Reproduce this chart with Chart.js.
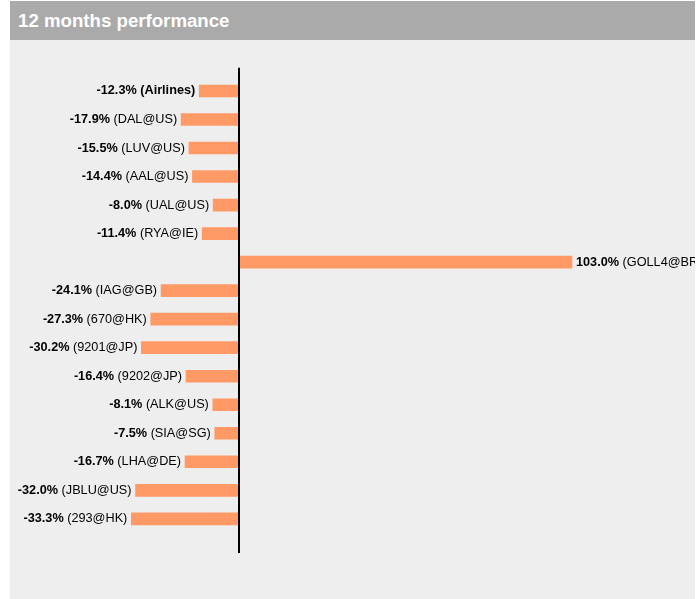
<!DOCTYPE html>
<html>
<head>
<meta charset="utf-8">
<script src="https://cdn.jsdelivr.net/npm/chart.js@4"></script>
<style>
  html, body { margin: 0; padding: 0; background: #ffffff; }
  #panel {
    position: absolute; left: 10px; top: 1px; width: 685px; height: 598px;
    background: #eeeeee; overflow: hidden;
  }
  #header {
    height: 39px; background: #aaaaaa; color: #ffffff;
    font: bold 18.67px "Liberation Sans", Arial, sans-serif;
    line-height: 39px; padding-left: 8px;
  }
  #chartBox { position: absolute; left: 0; top: 39px; width: 685px; height: 559px; }
</style>
</head>
<body>
<div id="panel">
  <div id="header">12 months performance</div>
  <div id="chartBox"><canvas id="chart"></canvas></div>
</div>
<script>
// 12 months performance, in %
const tickers = ['Airlines', 'DAL@US', 'LUV@US', 'AAL@US', 'UAL@US', 'RYA@IE', 'GOLL4@BR',
  'IAG@GB', '670@HK', '9201@JP', '9202@JP', 'ALK@US', 'SIA@SG', 'LHA@DE', 'JBLU@US', '293@HK'];
const perf = [-12.3, -17.9, -15.5, -14.4, -8.0, -11.4, 103.0,
  -24.1, -27.3, -30.2, -16.4, -8.1, -7.5, -16.7, -32.0, -33.3];
const boldRows = ['Airlines'];

const FONT = '"Liberation Sans", Arial, sans-serif';

// value label next to each bar: bold value + normal ticker
const barLabels = {
  id: 'barLabels',
  afterDatasetsDraw(chart) {
    const ctx = chart.ctx;
    const meta = chart.getDatasetMeta(0);
    ctx.save();
    ctx.fillStyle = '#000000';
    ctx.textBaseline = 'middle';
    meta.data.forEach((bar, i) => {
      const v = perf[i];
      const name = tickers[i];
      const valTxt = v.toFixed(1) + '%';
      const allBold = boldRows.includes(name);
      const boldFont = 'bold 12.7px ' + FONT;
      const normFont = (allBold ? 'bold ' : '') + '12.7px ' + FONT;
      const rest = ' (' + name + ')';
      ctx.font = boldFont;
      const wVal = ctx.measureText(valTxt).width;
      ctx.font = normFont;
      const wRest = ctx.measureText(rest).width;
      let x = v < 0 ? bar.x - 4 - (wVal + wRest) : bar.x + 4;
      ctx.textAlign = 'left';
      ctx.font = boldFont;
      ctx.fillText(valTxt, x, bar.y);
      ctx.font = normFont;
      ctx.fillText(rest, x + wVal, bar.y);
    });

    // zero line
    const x0 = chart.scales.x.getPixelForValue(0);
    const area = chart.chartArea;
    ctx.strokeStyle = '#000000';
    ctx.lineWidth = 2;
    ctx.beginPath();
    ctx.moveTo(x0, area.top - 9);
    ctx.lineTo(x0, area.bottom + 20);
    ctx.stroke();
    ctx.restore();
  }
};

new Chart(document.getElementById('chart'), {
  type: 'bar',
  data: {
    labels: tickers,
    datasets: [{
      data: perf,
      backgroundColor: '#ff9966',
      borderWidth: 0,
      barThickness: 12
    }]
  },
  options: {
    indexAxis: 'y',
    responsive: true,
    maintainAspectRatio: false,
    animation: false,
    layout: { padding: { top: 36.7, bottom: 65.9, left: 0, right: 0 } },
    scales: {
      x: { display: false, min: -70.83, max: 141.04 },
      y: { display: false }
    },
    plugins: {
      legend: { display: false },
      tooltip: { enabled: false }
    }
  },
  plugins: [barLabels]
});
</script>
</body>
</html>
